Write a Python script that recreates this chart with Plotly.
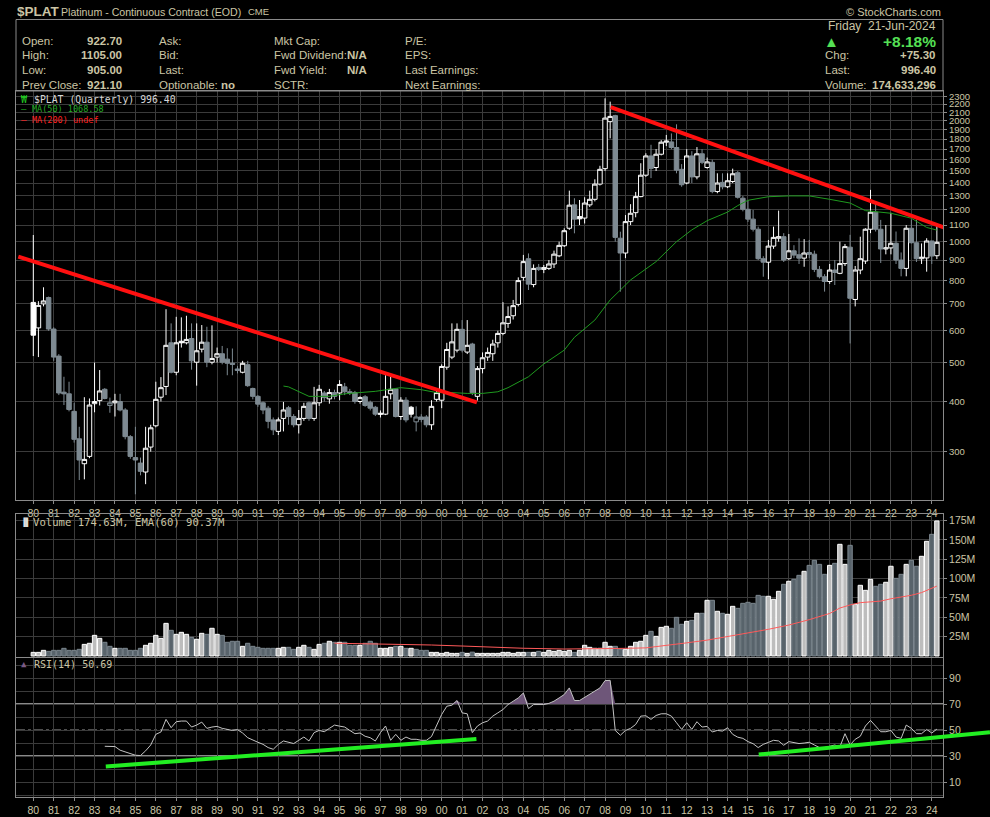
import plotly.graph_objects as go

# ---------------- data ----------------
first_year = 1980
quarters = [f"{first_year + k // 4}Q{k % 4 + 1}" for k in range(178)]

opens = [706, 610, 700, 726, 606, 519, 422, 418, 378, 323, 280, 292, 395, 402, 429, 391,
         397, 400, 381, 327, 290, 281, 267, 308, 348, 410, 436, 560, 473, 565, 560, 574,
         501, 540, 562, 501, 516, 526, 510, 498, 482, 473, 494, 431, 412, 397, 385, 360,
         337, 363, 386, 367, 350, 363, 397, 363, 397, 420, 406, 421, 420, 435, 423, 421,
         400, 411, 398, 387, 374, 372, 418, 430, 367, 403, 387, 356, 366, 366, 350, 405,
         403, 487, 516, 537, 605, 531, 556, 412, 483, 516, 526, 560, 591, 626, 654, 698,
         815, 907, 782, 863, 853, 858, 880, 922, 977, 1080, 1235, 1155, 1145, 1235, 1275, 1391,
         1520, 1990, 2060, 1020, 937, 1122, 1181, 1295, 1464, 1635, 1530, 1651, 1769, 1772, 1716, 1514,
         1400, 1635, 1450, 1655, 1530, 1576, 1333, 1405, 1370, 1412, 1485, 1283, 1204, 1138, 1074, 907,
         889, 975, 1020, 1029, 907, 949, 928, 910, 940, 931, 853, 818, 796, 850, 834, 882,
         969, 718, 850, 895, 1074, 1184, 1074, 959, 965, 991, 900, 858, 1080, 994, 907, 911,
         1004, 922.7]
highs = [1039, 711, 770, 730, 612, 525, 461, 448, 397, 346, 410, 407, 500, 479, 432, 409,
         418, 418, 385, 330, 346, 290, 346, 350, 448, 460, 679, 626, 650, 648, 654, 626,
         626, 620, 614, 619, 545, 550, 543, 542, 490, 505, 505, 433, 415, 400, 390, 365,
         365, 399, 390, 372, 381, 397, 400, 435, 440, 425, 430, 428, 452, 445, 430, 425,
         412, 415, 402, 390, 380, 465, 461, 432, 410, 410, 390, 389, 372, 370, 403, 431,
         495, 560, 626, 626, 638, 638, 560, 490, 530, 545, 570, 600, 707, 690, 716, 815,
         927, 935, 878, 880, 875, 900, 950, 1000, 1080, 1340, 1283, 1270, 1290, 1340, 1430, 1545,
         2275, 2232, 2070, 1059, 1165, 1240, 1330, 1568, 1660, 1743, 1700, 1790, 1844, 1860, 1960, 1560,
         1700, 1680, 1720, 1700, 1620, 1600, 1480, 1480, 1480, 1520, 1500, 1300, 1270, 1200, 1090, 920,
         1010, 1090, 1195, 1050, 1045, 980, 1019, 1015, 1010, 950, 870, 830, 880, 900, 1000, 987,
         1040, 870, 1029, 1080, 1346, 1258, 1133, 1100, 1180, 1060, 940, 1100, 1135, 1135, 990, 1020,
         1005, 1105]
lows = [519, 516, 690, 600, 505, 415, 392, 378, 316, 255, 256, 289, 376, 391, 405, 375,
        367, 378, 322, 288, 235, 262, 249, 300, 345, 400, 415, 470, 465, 545, 555, 480,
        438, 530, 487, 495, 500, 495, 465, 465, 470, 470, 435, 405, 388, 372, 343, 330,
        330, 337, 350, 345, 333, 358, 358, 358, 390, 400, 395, 405, 403, 415, 415, 395,
        395, 388, 380, 368, 365, 370, 405, 365, 360, 355, 365, 337, 355, 345, 340, 400,
        385, 480, 510, 530, 530, 525, 415, 402, 470, 505, 505, 545, 585, 610, 640, 690,
        800, 758, 770, 845, 835, 850, 860, 915, 970, 1070, 1049, 1100, 1110, 1220, 1260, 1380,
        1500, 1808, 1000, 751, 910, 1100, 1150, 1290, 1450, 1440, 1500, 1640, 1730, 1700, 1480, 1370,
        1390, 1400, 1430, 1560, 1520, 1320, 1320, 1350, 1360, 1400, 1280, 1190, 1120, 1060, 900, 818,
        806, 960, 1000, 890, 900, 910, 880, 866, 910, 840, 810, 751, 785, 780, 830, 870,
        558, 690, 830, 880, 1050, 1060, 885, 930, 930, 880, 820, 820, 990, 890, 880, 842,
        880, 905]
closes = [585, 694, 712, 606, 516, 420, 418, 382, 322, 286, 287, 392, 400, 425, 407, 397,
          401, 381, 327, 292, 286, 268, 306, 344, 405, 433, 552, 473, 560, 560, 571, 505,
          535, 562, 501, 512, 526, 501, 498, 495, 478, 498, 438, 412, 394, 381, 357, 340,
          360, 381, 367, 350, 363, 389, 363, 397, 429, 409, 421, 412, 441, 423, 421, 400,
          409, 391, 385, 372, 372, 412, 429, 367, 403, 360, 372, 366, 361, 350, 389, 421,
          489, 539, 563, 605, 537, 552, 421, 483, 514, 530, 556, 591, 628, 651, 693, 800,
          892, 784, 858, 853, 862, 880, 931, 979, 1065, 1233, 1138, 1140, 1248, 1275, 1391, 1514,
          2031, 2051, 1025, 937, 1122, 1177, 1295, 1464, 1635, 1522, 1651, 1769, 1780, 1716, 1507, 1386,
          1635, 1450, 1655, 1576, 1580, 1333, 1400, 1370, 1418, 1476, 1290, 1204, 1138, 1074, 907, 889,
          975, 1025, 1029, 900, 949, 926, 910, 937, 930, 853, 818, 796, 850, 838, 882, 972,
          723, 850, 907, 1074, 1184, 1074, 959, 965, 991, 900, 858, 1080, 994, 907, 915, 1004,
          921.1, 996.4]
volumes_m = [4.7, 4.7, 7.3, 6.0, 7.3, 7.3, 9.9, 7.3, 7.3, 8.6, 15.0, 16.4, 26.7, 22.8, 17.7, 12.5,
             9.9, 9.9, 9.9, 7.3, 7.3, 9.9, 13.8, 16.4, 26.7, 22.8, 42.2, 33.2, 28.0, 30.6, 28.0, 24.1,
             21.6, 29.3, 28.0, 35.8, 28.0, 26.7, 17.7, 19.0, 19.0, 12.5, 16.4, 12.5, 11.2, 9.9, 9.9, 9.9,
             9.9, 11.2, 11.2, 8.6, 11.2, 13.8, 11.2, 8.6, 15.0, 16.4, 19.0, 17.7, 17.7, 17.7, 13.8, 13.8,
             13.8, 16.4, 19.0, 16.4, 9.9, 9.9, 11.2, 12.5, 12.5, 9.9, 9.9, 8.6, 7.3, 7.3, 4.7, 4.7,
             3.4, 4.7, 3.4, 3.4, 4.7, 3.4, 5.0, 3.4, 3.4, 3.4, 3.4, 3.4, 4.7, 4.7, 3.4, 4.7,
             4.7, 4.7, 4.7, 6.0, 4.7, 7.3, 6.0, 7.3, 6.0, 7.3, 4.7, 7.3, 13.8, 11.2, 9.9, 9.9,
             17.7, 12.5, 12.5, 8.6, 8.6, 12.5, 17.7, 19.0, 26.7, 31.9, 25.4, 37.0, 38.4, 35.8, 50.0, 41.0,
             44.8, 46.1, 55.2, 55.2, 72.0, 72.0, 57.8, 55.2, 53.9, 64.2, 61.6, 68.1, 69.4, 68.1, 78.4, 77.2,
             77.2, 73.3, 83.6, 92.7, 96.6, 99.1, 104.3, 109.5, 117.2, 123.7, 118.5, 105.6, 117.2, 119.8, 144.4, 118.5,
             143.1, 66.8, 91.4, 84.9, 99.1, 90.1, 92.7, 95.3, 116.0, 100.4, 105.6, 118.5, 123.7, 116.0, 128.9, 148.3,
             157.3, 174.63]

rsi_start = 14
rsi_values = [37.5, 37.5, 37.3, 34.5, 33.0, 31.5, 30.6, 30.4, 34.0, 38.5,
              46.7, 48.5, 58.2, 51.8, 56.4, 56.9, 56.9, 52.3, 53.8, 56.1,
              51.3, 52.3, 52.8, 51.3, 50.3, 49.7, 50.3, 47.7, 44.1, 42.1,
              40.6, 39.0, 36.5, 35.2, 39.0, 41.6, 40.5, 39.6, 42.1, 44.6,
              41.6, 48.0, 49.7, 48.7, 51.3, 53.8, 53.0, 52.3, 49.7, 47.2,
              47.7, 45.2, 44.1, 41.6, 48.0, 53.1, 42.1, 46.7, 42.1, 44.6,
              42.9, 42.9, 42.1, 42.1, 45.0, 53.1, 62.0, 68.3, 69.1, 72.7,
              63.2, 62.5, 48.0, 53.1, 55.6, 56.9, 60.7, 63.2, 65.8, 69.6,
              72.0, 74.7, 78.5, 66.5, 69.6, 69.6, 69.6, 70.5, 72.2, 74.7,
              77.3, 82.4, 72.7, 72.7, 75.2, 77.8, 79.8, 82.4, 88.0, 88.2,
              49.7, 46.0, 49.7, 51.3, 54.3, 60.7, 61.0, 58.2, 61.2, 62.5,
              62.5, 60.7, 55.6, 50.5, 55.6, 50.5, 56.4, 52.3, 52.8, 48.5,
              49.7, 49.2, 51.8, 46.7, 44.5, 43.6, 41.1, 39.5, 36.5, 39.0,
              40.5, 42.1, 41.6, 38.3, 41.1, 40.3, 39.6, 40.0, 40.6, 38.5,
              36.5, 36.5, 37.5, 38.5, 37.0, 47.2, 38.5, 42.9, 45.2, 53.1,
              57.4, 53.1, 48.7, 48.7, 49.7, 44.6, 43.6, 53.8, 51.3, 47.2,
              47.2, 50.5, 47.7, 50.69]

ma50_idx = [49, 50, 54, 58, 61, 67, 72, 76, 79, 82, 85, 88, 91, 93, 97, 100, 104, 106, 110, 113,
            115, 117, 122, 126, 129, 132, 136, 138, 140, 144, 148, 152, 156, 160, 163, 168, 172, 175, 177]
ma50_values = [437, 435, 412, 412, 418, 424, 433, 428, 421, 421, 419, 419, 423, 433, 461, 496, 537, 578, 638, 716,
               758, 803, 892, 1000, 1070, 1128, 1185, 1230, 1268, 1294, 1300, 1300, 1275, 1248, 1195, 1177, 1144, 1085, 1068.58]

vol_ema_idx = [59, 64, 70, 78, 84, 90, 96, 104, 110, 116, 120, 124, 128, 132, 136, 140, 144, 148, 152, 156,
               158, 160, 162, 164, 166, 168, 170, 172, 174, 176, 177]
vol_ema_values = [16.5, 16.0, 15.0, 14.2, 12.9, 11.2, 10.0, 9.0, 9.0, 9.9, 10.5, 13.5, 17.0, 20.5, 25.0, 29.5,
                  34.5, 40.0, 47.0, 55.0, 62.0, 66.0, 69.0, 70.0, 71.0, 74.0, 76.0, 78.5, 82.0, 87.0, 90.37]

price_ticks = [300, 400, 500, 600, 700, 800, 900, 1000, 1100, 1200, 1300, 1400, 1500,
               1600, 1700, 1800, 1900, 2000, 2100, 2200, 2300]
volume_ticks = [25, 50, 75, 100, 125, 150, 175]
rsi_ticks = [10, 30, 50, 70, 90]
rsi_levels = [70, 30]
rsi_mid = 50
years = list(range(1980, 2025))

# hand-drawn trend lines (x in quarter index, y in data units)
price_trend1_q, price_trend1_v = [-2.94, 86.9], [918, 398]
price_trend2_q, price_trend2_v = [113.1, 178.8], [2162, 1080]
rsi_trend1_q, rsi_trend1_v = [14.2, 86.8], [22.0, 43.1]
rsi_trend2_q, rsi_trend2_v = [142.1, 187.4], [31.1, 48.4]

# ---------------- style ----------------
TXT = '#cbc5a5'
GRID = '#3b3b3b'
FRAME = '#8a8a8a'
GRAYC = '#7e8a92'
TICKFONT = dict(family='Liberation Sans', size=10.5, color=TXT)


def qx(k):
    return first_year + k * 0.25


x = [qx(k) for k in range(len(quarters))]
XR = [1979.1525, 2024.55]
XD = 927 / 974
PRICE_D = [1 - 500 / 817, 1 - 91 / 817]
VOL_D = [1 - 657 / 817, 1 - 514 / 817]
RSI_D = [1 - 797 / 817, 1 - 658 / 817]
RSI_R = [-1.5, 105.4]

fig = go.Figure()

# candles: hollow if close>=open, white if close>=previous close, else gray
groups = {}
for k in range(len(x)):
    white = k == 0 or closes[k] >= closes[k - 1]
    groups.setdefault(white, []).append(k)
for white, idx in groups.items():
    col = '#ffffff' if white else GRAYC
    fig.add_trace(go.Candlestick(
        x=[x[k] for k in idx], open=[opens[k] for k in idx], high=[highs[k] for k in idx],
        low=[lows[k] for k in idx], close=[closes[k] for k in idx],
        increasing=dict(line=dict(color=col, width=1), fillcolor='#000000'),
        decreasing=dict(line=dict(color=col, width=1), fillcolor=col),
        whiskerwidth=0, xaxis='x', yaxis='y', hoverinfo='skip', showlegend=False))

fig.add_trace(go.Scatter(x=[qx(k) for k in ma50_idx], y=ma50_values, mode='lines',
                         line=dict(color='#1f9a1f', width=1), xaxis='x', yaxis='y'))
fig.add_trace(go.Scatter(x=[qx(k) for k in price_trend1_q], y=price_trend1_v, mode='lines',
                         line=dict(color='#ff1010', width=4), xaxis='x', yaxis='y'))
fig.add_trace(go.Scatter(x=[qx(k) for k in price_trend2_q], y=price_trend2_v, mode='lines',
                         line=dict(color='#ff1010', width=4), xaxis='x', yaxis='y'))

# volume
vol_up = [k == 0 or closes[k] >= closes[k - 1] for k in range(len(x))]
fig.add_trace(go.Bar(x=x, y=volumes_m, xaxis='x2', yaxis='y2',
                     marker=dict(color=['#bdbdbd' if u else '#58636b' for u in vol_up],
                                 line=dict(color=['#ffffff' if u else '#7c878f' for u in vol_up], width=1))))
fig.add_trace(go.Scatter(x=[qx(k) for k in vol_ema_idx], y=vol_ema_values, mode='lines',
                         line=dict(color='#ff5a5a', width=1), xaxis='x2', yaxis='y2'))

# RSI
rsi_x = x[rsi_start:rsi_start + len(rsi_values)]
fig.add_trace(go.Scatter(x=rsi_x, y=[rsi_levels[0]] * len(rsi_x), mode='lines', line=dict(width=0),
                         xaxis='x3', yaxis='y3'))
fig.add_trace(go.Scatter(x=rsi_x, y=[max(v, rsi_levels[0]) for v in rsi_values], mode='lines',
                         line=dict(width=0), fill='tonexty', fillcolor='#6e5679', xaxis='x3', yaxis='y3'))
fig.add_trace(go.Scatter(x=rsi_x, y=rsi_values, mode='lines', line=dict(color='#c4c4c4', width=1),
                         xaxis='x3', yaxis='y3'))
fig.add_trace(go.Scatter(x=[qx(k) for k in rsi_trend1_q], y=rsi_trend1_v, mode='lines',
                         line=dict(color='#22ee22', width=4), xaxis='x3', yaxis='y3'))
fig.add_trace(go.Scatter(x=[qx(k) for k in rsi_trend2_q], y=rsi_trend2_v, mode='lines',
                         line=dict(color='#22ee22', width=4), xaxis='x4', yaxis='y4'))

shapes = []
for lv in rsi_levels:
    shapes.append(dict(type='line', xref='x3 domain', x0=0, x1=1, yref='y3', y0=lv, y1=lv,
                       line=dict(color='#b8b8b8', width=1.5), layer='below'))
shapes.append(dict(type='line', xref='x3 domain', x0=0, x1=1, yref='y3', y0=rsi_mid, y1=rsi_mid,
                   line=dict(color='#a8a8a8', width=1, dash='dashdot'), layer='below'))


def px(v):
    return (v - 16) / 974


def py(v):
    return 1 - v / 817


shapes.append(dict(type='rect', xref='paper', yref='paper', x0=px(16), x1=px(943), y0=py(91), y1=py(19.5),
                   line=dict(color=FRAME, width=1)))

anns = []


def ann(text, xp, yp, size=11.5, color=TXT, xanchor='left', family='Liberation Sans', bold=False):
    anns.append(dict(text=f'<b>{text}</b>' if bold else text, x=px(xp), y=py(yp), xref='paper', yref='paper',
                     xanchor=xanchor, yanchor='middle', showarrow=False,
                     font=dict(size=size, color=color, family=family)))


ann('$PLAT', 15, 11, size=13.5, bold=True)
ann('Platinum - Continuous Contract (EOD)', 59, 11.5, size=10.6)
ann('CME', 246, 12, size=9.5)
ann('© StockCharts.com', 943, 11.5, size=11, xanchor='right')

rows = [40.7, 55.3, 70, 84.7]
for r, lab in zip(rows, ['Open:', 'High:', 'Low:', 'Prev Close:']):
    ann(lab, 20, r)
for r, val in zip(rows, [opens[-1], highs[-1], lows[-1], closes[-2]]):
    ann(f'{val:.2f}', 123.5, r, bold=True, xanchor='right')
for r, lab in zip(rows, ['Ask:', 'Bid:', 'Last:', 'Optionable:']):
    ann(lab, 157, r)
ann('no', 237, rows[3], bold=True, xanchor='right')
for r, lab in zip(rows, ['Mkt Cap:', 'Fwd Dividend:', 'Fwd Yield:', 'SCTR:']):
    ann(lab, 271.5, r)
ann('N/A', 369, rows[1], bold=True, xanchor='right')
ann('N/A', 369, rows[2], bold=True, xanchor='right')
for r, lab in zip(rows, ['P/E:', 'EPS:', 'Last Earnings:', 'Next Earnings:']):
    ann(lab, 403, r)

ann('Friday  21-Jun-2024', 938, 26, xanchor='right', size=12)
ann('▲', 831, 41, size=15, color='#55e055', xanchor='center')
ann(f'+{(closes[-1] - closes[-2]) / closes[-2] * 100:.2f}%', 938, 41, size=15.5, color='#55e055',
    bold=True, xanchor='right')
ann('Chg:', 822.5, rows[1])
ann(f'+{closes[-1] - closes[-2]:.2f}', 938, rows[1], bold=True, xanchor='right')
ann('Last:', 822.5, rows[2])
ann(f'{closes[-1]:.2f}', 938, rows[2], bold=True, xanchor='right')
ann('Volume:', 822.5, rows[3])
ann('174,633,296', 938, rows[3], bold=True, xanchor='right')

MONO = 'DejaVu Sans Mono'
ann('₩', 19, 99, size=10, color='#22cc22', family=MONO)
ann(f'$PLAT (Quarterly) {closes[-1]:.2f}', 31.5, 99, size=9.8, color='#d6d6d6', family=MONO)
ann('—', 19, 109.5, size=9, color='#22a822', family=MONO)
ann(f'MA(50) {ma50_values[-1]:.2f}', 29.5, 109.5, size=8.5, color='#22a822', family=MONO)
ann('—', 19, 120, size=9, color='#ff2020', family=MONO)
ann('MA(200) undef', 29.5, 120, size=8.5, color='#ff2020', family=MONO)
ann('▐▌', 19, 521.5, size=8, color='#dddddd', family=MONO)
ann(f'Volume {volumes_m[-1]:.2f}M, EMA(60) {vol_ema_values[-1]:.2f}M', 31, 521.5, size=10.6, color=TXT,
    family=MONO)
ann('▲', 24, 664, size=9, color='#7a5a86', family=MONO, xanchor='center')
ann(f'RSI(14) {rsi_values[-1]:.2f}', 31.5, 664, size=10, color=TXT, family=MONO)

year_text = [f'{y % 100:02d}' for y in years]
common_x = dict(range=XR, domain=[0, XD], tickvals=years, ticktext=year_text, showgrid=True, gridcolor=GRID,
                gridwidth=1, showline=True, mirror=True, linecolor=FRAME, zeroline=False,
                ticks='outside', ticklen=3, tickcolor=FRAME, tickfont=TICKFONT, fixedrange=True)
common_y = dict(side='right', showgrid=True, gridcolor=GRID, showline=True, mirror=True, linecolor=FRAME,
                zeroline=False, ticks='outside', ticklen=3, tickcolor=FRAME, tickfont=TICKFONT, fixedrange=True)

fig.update_layout(
    width=990, height=817, margin=dict(l=16, r=0, t=0, b=0),
    paper_bgcolor='#000000', plot_bgcolor='rgba(0,0,0,0)',
    showlegend=False, hovermode=False, boxgap=0.12, boxgroupgap=0, bargap=0.15,
    xaxis=dict(**common_x, anchor='y', rangeslider=dict(visible=False)),
    yaxis=dict(**common_y, anchor='x', domain=PRICE_D, type='log',
               range=[2.3568, 3.3752], tickvals=price_ticks, ticktext=[str(v) for v in price_ticks]),
    xaxis2=dict(**common_x, anchor='y2', showticklabels=False),
    yaxis2=dict(**common_y, anchor='x2', domain=VOL_D, range=[-1.3, 183.6], tickvals=volume_ticks,
                ticktext=[f'{v}M' for v in volume_ticks]),
    xaxis3=dict(**common_x, anchor='y3'),
    yaxis3=dict(**common_y, anchor='x3', domain=RSI_D, range=RSI_R, tickvals=rsi_ticks,
                ticktext=[str(v) for v in rsi_ticks],
                minor=dict(tickvals=[0, 20, 40, 60, 80, 100], showgrid=True, gridcolor=GRID, ticks='')),
    xaxis4=dict(domain=[0, 1], range=[XR[0], XR[0] + (XR[1] - XR[0]) * 974 / 927], anchor='y4',
                visible=False, fixedrange=True),
    yaxis4=dict(domain=RSI_D, range=RSI_R, anchor='x4', visible=False, fixedrange=True),
    shapes=shapes, annotations=anns,
)
fig.update_yaxes(tickfont=dict(size=9.5), selector=dict(type='log'))

fig.write_html('out.html', config={'displayModeBar': False},
               post_script="document.body.style.margin='0px';document.body.style.background='#000000';"
                           "document.documentElement.style.background='#000000';")
